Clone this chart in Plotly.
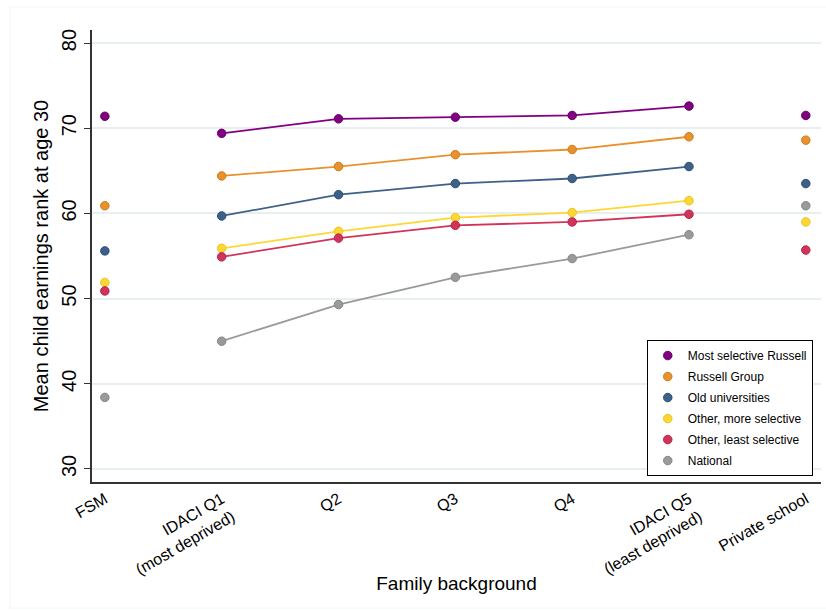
import plotly.graph_objects as go

# Family background categories (x axis)
categories = ['FSM', 'IDACI Q1<br>(most deprived)', 'Q2', 'Q3', 'Q4',
              'IDACI Q5<br>(least deprived)', 'Private school']

series_names = ['Most selective Russell', 'Russell Group', 'Old universities',
                'Other, more selective', 'Other, least selective', 'National']

most_selective = [71.4, 69.4, 71.1, 71.3, 71.5, 72.6, 71.5]
russell_group = [60.9, 64.4, 65.5, 66.9, 67.5, 69.0, 68.6]
old_unis = [55.6, 59.7, 62.2, 63.5, 64.1, 65.5, 63.5]
other_more = [51.9, 55.9, 57.9, 59.5, 60.1, 61.5, 59.0]
other_least = [50.9, 54.9, 57.1, 58.6, 59.0, 59.9, 55.7]
national = [38.4, 45.0, 49.3, 52.5, 54.7, 57.5, 60.9]

colours = ['#800080', '#e8912d', '#3d6189', '#fdd835', '#d1345b', '#9a9a9a']
edges = ['#6a006a', '#d07a1a', '#2e4d70', '#e8c21f', '#b82448', '#858585']

all_series = [most_selective, russell_group, old_unis, other_more, other_least, national]

x_pos = list(range(len(categories)))

fig = go.Figure()

for name, vals, col, edge in zip(series_names, all_series, colours, edges):
    # connected part: IDACI quintiles
    fig.add_trace(go.Scatter(x=x_pos[1:6], y=vals[1:6], mode='lines+markers',
                             line=dict(color=col, width=1.8),
                             marker=dict(size=8.5, color=col, line=dict(color=edge, width=1)),
                             legendgroup=name, showlegend=False, name=name))
    # FSM and private school, stand-alone markers
    fig.add_trace(go.Scatter(x=[x_pos[0], x_pos[6]], y=[vals[0], vals[6]], mode='markers',
                             marker=dict(size=8.5, color=col, line=dict(color=edge, width=1)),
                             legendgroup=name, showlegend=True, name=name))

# faint outer frame of the graph region
fig.add_shape(type='rect', xref='paper', yref='paper', x0=-0.1125, x1=1.02, y0=-0.279, y1=1.051,
              line=dict(color='#f3f6f7', width=1), layer='below')

fig.update_layout(
    width=826, height=610,
    margin=dict(l=92, r=5, t=30, b=128),
    paper_bgcolor='white', plot_bgcolor='white',
    font=dict(family='Liberation Sans, Arial, sans-serif', color='black'),
    legend=dict(x=0.761, y=0.314, xanchor='left', yanchor='top',
                bordercolor='black', borderwidth=1, bgcolor='white',
                font=dict(size=12), tracegroupgap=2),
    xaxis=dict(range=[-0.11, 6.13], tickmode='array', tickvals=x_pos, ticktext=categories,
               tickangle=-30, tickfont=dict(size=16), showgrid=False, zeroline=False,
               showline=True, linecolor='#333333', linewidth=1.5, ticks='',
               title=dict(text='Family background', font=dict(size=19), standoff=0)),
    yaxis=dict(range=[28.47, 81.53], tickvals=[30, 40, 50, 60, 70, 80], tickangle=-90,
               tickfont=dict(size=20), showgrid=True, gridcolor='#e8eff1', gridwidth=1.5,
               zeroline=False, showline=True, linecolor='#333333', linewidth=1.5,
               ticks='outside', ticklen=6, tickcolor='#333333',
               title=dict(text='Mean child earnings rank at age 30', font=dict(size=20), standoff=4)),
)

fig.write_html("out.html", config={'displayModeBar': False},
               post_script="document.body.style.margin='0';document.body.style.overflow='hidden';")
